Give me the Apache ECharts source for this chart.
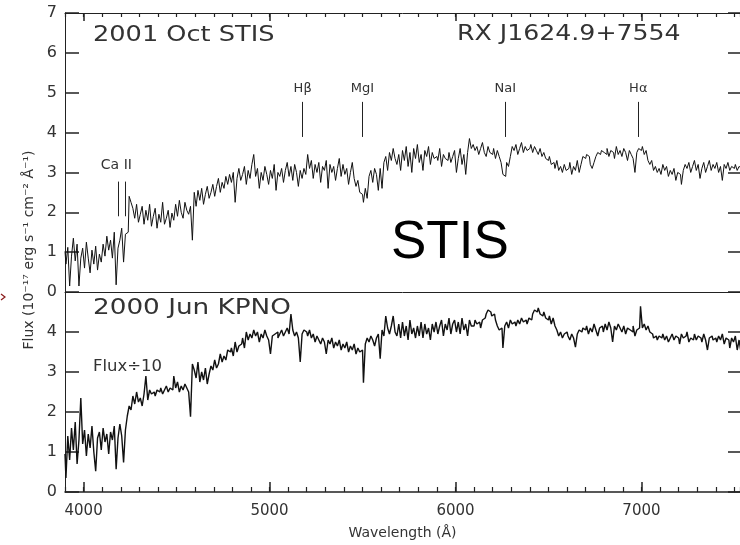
<!DOCTYPE html>
<html>
<head>
<meta charset="utf-8">
<script src="https://cdn.jsdelivr.net/npm/echarts@6/dist/echarts.min.js"></script>
<style>
  html, body { margin: 0; padding: 0; background: #fff; }
  #chart { width: 740px; height: 545px; }
</style>
</head>
<body>
<div id="chart"></div>
<script>
// Sampling grid of both spectra (Å)
const WAVE_START = 3900;
const WAVE_STEP = 10;

// HST/STIS spectrum, 2001 Oct (10^-17 erg s^-1 cm^-2 Å^-1)
const stisFlux = [
  1.02, 0.70, 1.12, 0.15, 0.90, 1.35, 0.78, 1.20, 0.15, 0.85,
  1.10, 0.60, 1.25, 0.85, 0.48, 1.05, 0.70, 1.15, 0.55, 0.95,
  0.75, 1.20, 0.90, 1.40, 1.05, 1.30, 0.85, 1.50, 0.18, 1.10,
  1.30, 1.60, 0.75, 1.45, 1.50, 2.40, 2.25, 2.10, 1.85, 2.20,
  1.75, 1.95, 2.15, 1.70, 2.05, 1.80, 2.20, 1.65, 1.90, 2.10,
  1.60, 1.95, 1.75, 2.25, 1.70, 1.85, 2.05, 1.62, 1.98, 1.80,
  2.20, 1.90, 2.30, 2.00, 1.85, 2.25, 2.05, 1.95, 2.15, 1.30,
  2.50, 2.15, 2.55, 2.30, 2.60, 2.20, 2.45, 2.65, 2.35, 2.50,
  2.70, 2.40, 2.65, 2.85, 2.50, 2.75, 2.60, 2.90, 2.70, 2.95,
  2.75, 3.00, 2.25, 2.85, 3.10, 2.80, 2.95, 3.15, 2.70, 3.05,
  2.85, 3.20, 3.45, 2.90, 3.10, 2.60, 3.00, 2.80, 3.15, 2.95,
  2.70, 3.05, 2.85, 3.20, 2.55, 3.00, 2.90, 3.10, 2.75, 3.05,
  3.25, 2.90, 3.15, 2.80, 3.20, 3.00, 2.65, 3.05, 2.85, 3.10,
  2.95, 3.45, 3.10, 3.30, 2.85, 3.20, 3.00, 3.25, 2.75, 3.15,
  3.05, 3.30, 2.60, 3.20, 3.00, 3.15, 2.80, 3.10, 3.35, 2.90,
  3.20, 2.95, 3.10, 2.70, 3.00, 3.25, 2.85, 2.65, 2.80, 2.50,
  2.45, 2.25, 2.60, 2.35, 2.90, 3.05, 2.75, 3.10, 2.95, 2.55,
  3.10, 2.60, 3.25, 3.40, 3.05, 3.50, 3.30, 3.60, 3.35, 3.20,
  3.45, 3.05, 3.55, 3.30, 3.65, 3.15, 3.50, 3.00, 3.60, 3.35,
  3.70, 3.25, 3.45, 3.05, 3.55, 3.40, 3.65, 3.20, 3.50, 3.35,
  3.40, 3.30, 3.60, 3.15, 3.45, 3.35, 3.30, 3.50, 3.25, 3.40,
  3.55, 3.00, 3.35, 3.60, 3.20, 3.45, 2.95, 3.50, 3.85, 3.60,
  3.70, 3.55, 3.65, 3.45, 3.60, 3.75, 3.50, 3.40, 3.65, 3.50,
  3.45, 3.60, 3.35, 3.55, 3.40, 3.25, 2.95, 2.90, 3.25, 3.15,
  3.40, 3.65, 3.55, 3.70, 3.45, 3.60, 3.75, 3.50, 3.65, 3.55,
  3.60, 3.70, 3.50, 3.65, 3.55, 3.45, 3.60, 3.40, 3.50, 3.35,
  3.30, 3.40, 3.20, 3.25, 3.10, 3.30, 3.05, 3.15, 3.00, 3.20,
  3.05, 3.10, 3.25, 2.95, 3.15, 3.05, 3.30, 3.00, 3.20, 3.40,
  3.35, 3.45, 3.40, 3.20, 3.10, 3.25, 3.40, 3.50, 3.45, 3.55,
  3.50, 3.45, 3.60, 3.40, 3.55, 3.50, 3.35, 3.65, 3.45, 3.55,
  3.40, 3.60, 3.50, 3.30, 3.55, 3.45, 3.35, 3.00, 3.50, 3.60,
  3.55, 3.65, 3.45, 3.55, 3.30, 3.20, 3.30, 3.05, 3.15, 3.00,
  3.10, 2.95, 3.20, 3.05, 3.15, 2.90, 3.05, 2.95, 3.10, 2.80,
  3.00, 2.95, 2.70, 3.05, 3.20, 3.10, 3.25, 3.00, 3.15, 3.30,
  3.05, 3.20, 2.85, 3.10, 3.25, 3.00, 3.15, 3.30, 3.05, 3.20,
  3.10, 3.25, 3.00, 3.15, 2.80, 3.20, 3.10, 3.25, 3.05, 3.15,
  3.10, 3.20, 3.05, 3.15, 3.10
];

// KPNO spectrum, 2000 Jun, flux divided by 10 (same units)
const kpnoFlux = [
  0.95, 0.35, 1.40, 0.80, 1.60, 1.05, 1.75, 0.70, 1.30, 2.35,
  1.20, 1.55, 0.90, 1.45, 1.10, 1.65, 1.00, 0.52, 1.35, 1.50,
  1.05, 1.60, 1.25, 1.45, 0.95, 1.50, 1.30, 1.65, 0.57, 1.35,
  1.70, 1.40, 0.74, 1.55, 1.90, 2.15, 2.05, 2.40, 2.20, 2.50,
  2.25, 2.35, 2.15, 2.45, 2.90, 2.30, 2.55, 2.45, 2.50, 2.40,
  2.55, 2.50, 2.60, 2.45, 2.55, 2.65, 2.50, 2.60, 2.55, 2.90,
  2.60, 2.75, 2.50, 2.65, 2.55, 2.70, 2.60, 2.50, 1.88, 3.20,
  3.05, 2.85, 3.25, 2.75, 3.00, 2.80, 3.10, 2.70, 2.95, 3.15,
  3.05, 3.30, 3.10, 3.20, 3.45, 3.25, 3.40, 3.30, 3.55, 3.50,
  3.60, 3.40, 3.75, 3.50, 3.65, 3.70, 3.85, 3.60, 4.00, 3.80,
  3.95, 3.85, 4.05, 3.90, 4.00, 3.75, 3.95, 3.85, 4.05, 3.90,
  3.80, 3.45, 3.90, 3.95, 4.00, 3.85, 3.95, 4.05, 3.90, 4.00,
  4.10, 3.95, 4.45, 4.05, 3.90, 4.00, 3.85, 3.25, 3.95, 4.05,
  4.00, 3.90, 4.05, 3.85, 3.95, 3.75, 3.90, 3.80, 3.70, 3.85,
  3.75, 3.45, 3.80, 3.70, 3.85, 3.60, 3.75, 3.65, 3.80, 3.55,
  3.70, 3.60, 3.75, 3.50, 3.65, 3.55, 3.70, 3.45, 3.60, 3.50,
  3.55, 2.73, 3.70, 3.85, 3.75, 3.90, 3.80, 3.65, 3.85, 3.95,
  3.33, 4.05, 3.90, 4.40, 4.10, 3.95, 4.15, 4.40, 4.00, 3.90,
  4.20, 3.85, 4.25, 3.90, 4.15, 3.80, 4.30, 3.95, 4.10, 3.85,
  4.15, 3.90, 4.25, 3.85, 4.20, 3.95, 4.10, 3.80, 4.20, 4.00,
  4.25, 3.95, 4.15, 4.30, 3.90, 4.20, 4.05, 4.35, 3.95, 4.20,
  4.30, 4.00, 4.25, 3.95, 4.35, 4.05, 4.20, 3.90, 4.30, 4.15,
  4.15, 4.30, 4.20, 4.25, 4.10, 4.30, 4.35, 4.45, 4.55, 4.50,
  4.40, 4.45, 4.30, 4.15, 4.05, 4.10, 3.60, 4.15, 4.25, 4.10,
  4.30, 4.20, 4.25, 4.15, 4.30, 4.20, 4.35, 4.25, 4.30, 4.20,
  4.35, 4.30, 4.45, 4.55, 4.50, 4.60, 4.45, 4.40, 4.50, 4.35,
  4.30, 4.40, 4.20, 4.35, 4.15, 4.05, 3.90, 4.00, 3.85, 3.95,
  4.00, 3.90, 3.80, 3.95, 3.85, 3.62, 3.95, 4.05, 4.00, 4.10,
  4.05, 4.15, 3.95, 4.10, 4.00, 4.20, 4.05, 3.90, 4.10, 4.15,
  4.00, 4.20, 4.05, 4.25, 4.10, 3.75, 4.15, 4.05, 4.20, 4.10,
  4.00, 4.15, 3.95, 4.10, 4.05, 4.00, 4.15, 3.90, 4.05, 4.10,
  4.64, 4.10, 4.20, 4.05, 4.15, 4.00, 3.95, 3.85, 3.90, 3.80,
  3.90, 3.85, 3.95, 3.80, 3.90, 3.75, 3.85, 3.95, 3.80, 3.90,
  3.85, 3.70, 3.95, 3.85, 3.90, 4.00, 3.75, 3.85, 3.80, 3.95,
  3.80, 3.90, 3.85, 3.75, 3.95, 3.80, 3.55, 3.85, 3.90, 3.80,
  3.85, 3.75, 3.90, 3.80, 3.95, 3.70, 3.85, 3.80, 3.60, 3.85,
  3.75, 3.90, 3.55, 3.80, 3.50
];

// Identified features (observed wavelengths, Å)
const lineNames = ['Hβ', 'MgI', 'NaI', 'Hα'];
const lineWaves = [5178, 5500, 6268, 6983];
const caIIWaves = [4187, 4222];
const lineTickRange = [3.89, 4.77];
const caIITickRange = [1.9, 2.77];

// Axis ranges and tick labels
const waveRange = [3900, 7530];
const xMajorTicks = [4000, 5000, 6000, 7000];
const xMinorStep = 100;
const topFluxRange = [0, 7];
const bottomFluxRange = [0, 5];

const FONT = 'DejaVu Sans';
const INK = '#222';
const TEXT = '#333';
const TICK_W = 1.5;

// Panel rectangles (top: STIS, bottom: KPNO), kept inside the 740 px page
const TOP_RECT = { left: 65, top: 13, width: 675, height: 279 };
const BOT_RECT = { left: 65, top: 292, width: 675, height: 200 };

// Thin strips along the wavelength axes that carry the minor tick marks
const BOT_EDGE = BOT_RECT.top + BOT_RECT.height;
const TICK_GRIDS = [
  { left: TOP_RECT.left, top: TOP_RECT.top, width: TOP_RECT.width, height: 4 },
  { left: BOT_RECT.left, top: BOT_EDGE - 5, width: BOT_RECT.width, height: 5 }
];

function toPairs(values) {
  return values.map((v, i) => [WAVE_START + i * WAVE_STEP, v]);
}

const chart = echarts.init(document.getElementById('chart'), null, { renderer: 'canvas' });

const lineMarks = lineNames.map((name, i) => [
  { coord: [lineWaves[i], lineTickRange[0]],
    label: { show: true, formatter: name, position: 'end', distance: 7,
             fontFamily: FONT, fontSize: 13, color: TEXT } },
  { coord: [lineWaves[i], lineTickRange[1]] }
]);
const caMarks = caIIWaves.map((w, i) => [
  { coord: [w, caIITickRange[0]],
    label: i === 0
      ? { show: true, formatter: 'Ca II', position: 'end', distance: 9, offset: [-2, 0],
          fontFamily: FONT, fontSize: 14, color: TEXT }
      : { show: false } },
  { coord: [w, caIITickRange[1]] }
]);

// Frame axis; majorLen > 0 adds inward ticks at the labelled wavelengths
function frameX(gridIndex, position, showLine, majorLen) {
  return {
    type: 'value', gridIndex, position,
    min: waveRange[0], max: waveRange[1],
    splitLine: { show: false },
    axisLine: { show: showLine, onZero: false, lineStyle: { color: INK, width: 1 } },
    axisTick: majorLen
      ? { show: true, inside: true, length: majorLen, customValues: xMajorTicks,
          lineStyle: { color: INK, width: TICK_W } }
      : { show: false },
    axisLabel: { show: false }
  };
}
// Minor tick strip: split lines of a short grid act as the tick marks
function tickX(gridIndex) {
  return {
    type: 'value', gridIndex, position: 'bottom',
    min: waveRange[0], max: waveRange[1], interval: xMinorStep,
    axisLine: { show: false, onZero: false },
    axisTick: { show: false },
    axisLabel: { show: false },
    splitLine: { show: true, lineStyle: { color: INK, width: 1.2 } }
  };
}
function yAx(gridIndex, position, range, len, labels) {
  return {
    type: 'value', gridIndex, position,
    min: range[0], max: range[1], interval: 1,
    splitLine: { show: false },
    axisLine: { show: labels, onZero: false, lineStyle: { color: INK, width: 1 } },
    axisTick: { show: true, inside: true, length: len, lineStyle: { color: INK, width: TICK_W } },
    axisLabel: labels
      ? { show: true, margin: 8, fontFamily: FONT, fontSize: 16, color: TEXT,
          formatter: v => (range === bottomFluxRange && v === range[1]) ? '' : String(v) }
      : { show: false }
  };
}
function hiddenY(gridIndex) {
  return { type: 'value', gridIndex, min: 0, max: 1, show: false };
}

const botX = frameX(1, 'bottom', true, 10);
botX.axisLine.lineStyle.width = 1.5;
botX.axisLabel = { show: true, customValues: xMajorTicks, margin: 12,
                   fontFamily: FONT, fontSize: 15, color: TEXT,
                   formatter: v => String(v) };
botX.name = 'Wavelength (Å)';
botX.nameLocation = 'middle';
botX.nameGap = 34;
botX.nameTextStyle = { fontFamily: FONT, fontSize: 14, color: TEXT };

const option = {
  animation: false,
  backgroundColor: '#fff',
  grid: [TOP_RECT, BOT_RECT, TOP_RECT, BOT_RECT].concat(TICK_GRIDS),
  xAxis: [
    frameX(0, 'bottom', true, 0),
    botX,
    frameX(2, 'top', true, 8),
    frameX(3, 'bottom', false, 0),
    tickX(4),
    tickX(5)
  ],
  yAxis: [
    yAx(0, 'left', topFluxRange, 14, true),
    yAx(1, 'left', bottomFluxRange, 14, true),
    yAx(2, 'right', topFluxRange, 12, false),
    yAx(3, 'right', bottomFluxRange, 12, false),
    hiddenY(4), hiddenY(5)
  ],
  series: [
    {
      name: 'STIS', type: 'line', xAxisIndex: 0, yAxisIndex: 0,
      data: toPairs(stisFlux), step: 'middle', showSymbol: false, symbol: 'none',
      lineStyle: { color: '#111', width: 1 },
      markLine: {
        silent: true, symbol: 'none', animation: false,
        lineStyle: { color: INK, width: 1, type: 'solid' },
        data: lineMarks.concat(caMarks)
      }
    },
    {
      name: 'KPNO', type: 'line', xAxisIndex: 1, yAxisIndex: 1,
      data: toPairs(kpnoFlux), step: 'middle', showSymbol: false, symbol: 'none',
      lineStyle: { color: '#111', width: 1.4 }
    }
  ],
  graphic: [
    { type: 'text', x: 93, y: 36, scaleX: 1.22,
      style: { text: '2001 Oct STIS', font: '21px "DejaVu Sans"', fill: TEXT, verticalAlign: 'middle' } },
    { type: 'text', x: 457, y: 35, scaleX: 1.2,
      style: { text: 'RX J1624.9+7554', font: '21px "DejaVu Sans"', fill: TEXT, verticalAlign: 'middle' } },
    { type: 'text', x: 93, y: 309, scaleX: 1.25,
      style: { text: '2000 Jun KPNO', font: '21px "DejaVu Sans"', fill: TEXT, verticalAlign: 'middle' } },
    { type: 'text', x: 93, y: 367, scaleX: 1.1,
      style: { text: 'Flux÷10', font: '15px "DejaVu Sans"', fill: TEXT, verticalAlign: 'middle' } },
    { type: 'text', x: 391, y: 243,
      style: { text: 'STIS', font: '53px "Liberation Sans"', fill: '#000', verticalAlign: 'middle' } },
    { type: 'text', x: 29, y: 250, rotation: Math.PI / 2,
      style: { text: 'Flux (10⁻¹⁷ erg s⁻¹ cm⁻² Å⁻¹)', font: '14px "DejaVu Sans"', fill: TEXT,
               align: 'center', verticalAlign: 'middle' } },
    { type: 'polyline', shape: { points: [[1, 294], [5, 297], [1, 300]] },
      style: { stroke: '#8b1a1a', lineWidth: 1.2, fill: null } }
  ]
};

chart.setOption(option);
</script>
</body>
</html>
